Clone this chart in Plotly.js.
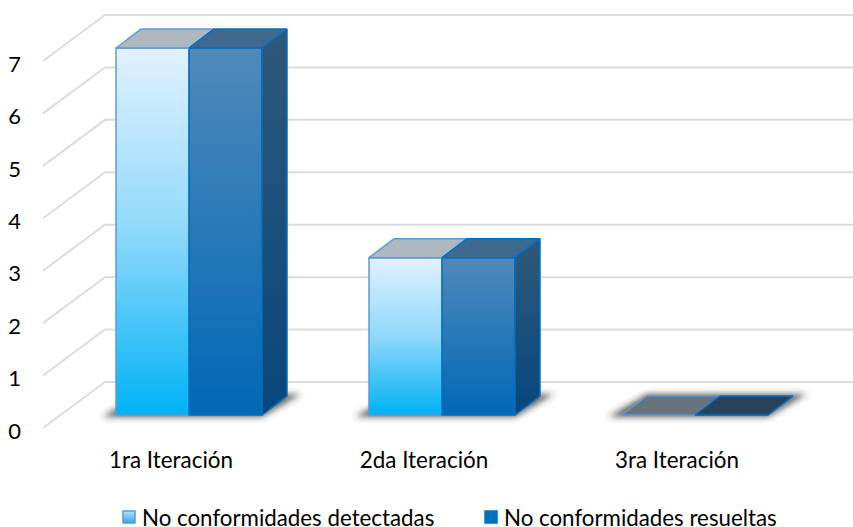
<!DOCTYPE html>
<html>
<head>
<meta charset="utf-8">
<script src="https://cdn.plot.ly/plotly-3.0.1.min.js"></script>
<style>html,body{margin:0;padding:0;background:#fff}</style>
</head>
<body>
<div id="chart" style="width:853px;height:527px"></div>
<script>
// Chart data
const categories = ['1ra Iteración', '2da Iteración', '3ra Iteración'];
const detectadas = [7, 3, 0];
const resueltas = [7, 3, 0];
const seriesNames = ['No conformidades detectadas', 'No conformidades resueltas'];
const valueTicks = [0, 1, 2, 3, 4, 5, 6, 7];

// Page geometry
const W = 853, H = 527, marginL = 22, marginB = 95;
const plotBottom = H - marginB;
const catStep = 253, unit = 52.43;
const labelX0 = 171, labelY0 = 428;   // pixel of first category label, value 0 on the axis plane
const barX0 = 189, barY0 = 415;       // pixel of first cluster centre, value 0 on the bar plane
const toIdx = px => px / catStep, toVal = px => px / unit;

// The bars stand slightly in front of the back wall and lean into it
const barW = toIdx(73), depthX = toIdx(25), depthY = toVal(19);
const wallX = toIdx(62), wallY = toVal(46);
const planeX = toIdx(barX0 - labelX0), planeY = toVal(labelY0 - barY0);
const gridStart = toIdx(43 - labelX0), gridEnd = toIdx(W - labelX0);

const idx = categories.map((_, i) => i);
const traces = [];

// Floor and wall grid, drawn in perspective
valueTicks.forEach(v => {
  traces.push({
    type: 'scatter', mode: 'lines', xaxis: 'x', yaxis: 'y', showlegend: false, hoverinfo: 'skip',
    x: [gridStart, gridStart + wallX, gridEnd],
    y: [v, v + wallY, v + wallY],
    line: {color: '#dcdcdc', width: 2}
  });
});

// Soft contact shadow under each cluster
idx.forEach(i => {
  const x0 = i - barW + planeX, x1 = i + barW + planeX, y0 = planeY;
  const pad = toIdx(14), padY = toVal(2);
  traces.push({
    type: 'scatter', mode: 'lines', name: 'sombra', xaxis: 'x', yaxis: 'y', showlegend: false, hoverinfo: 'skip',
    x: [x0 - pad, x1, x1 + depthX + pad, x0 + depthX, x0 - pad],
    y: [y0 - padY, y0 - padY, y0 + depthY + padY, y0 + depthY + padY, y0 - padY],
    fill: 'toself', fillcolor: 'rgba(50,50,50,0.75)', line: {width: 0}
  });
});

// Front faces
[detectadas, resueltas].forEach((vals, s) => {
  traces.push({
    type: 'bar', name: seriesNames[s], xaxis: 'x2', yaxis: 'y2', x: idx, y: vals, hoverinfo: 'skip',
    marker: {color: s ? '#0070c0' : '#5cc0f5', line: {color: s ? '#0070c0' : '#5b9bd5', width: 1.5}}
  });
});

// Top faces, darker on an empty bar where the floor shows through
[detectadas, resueltas].forEach((vals, s) => {
  vals.forEach((v, i) => {
    const x0 = i + (s ? 0 : -barW), x1 = x0 + barW;
    const fill = v > 0 ? (s ? '#3e6a8f' : '#aeb8c1') : (s ? '#27425a' : '#68737b');
    traces.push({
      type: 'scatter', mode: 'lines', xaxis: 'x2', yaxis: 'y2', showlegend: false, hoverinfo: 'skip',
      x: [x0, x1, x1 + depthX, x0 + depthX, x0],
      y: [v, v, v + depthY, v + depthY, v],
      fill: 'toself', fillcolor: fill,
      line: {color: s ? '#0070c0' : '#5b9bd5', width: 1.5}
    });
  });
});

// Right-hand side faces
resueltas.forEach((v, i) => {
  if (v <= 0) return;
  const x1 = i + barW;
  traces.push({
    type: 'scatter', mode: 'lines', xaxis: 'x2', yaxis: 'y2', showlegend: false, hoverinfo: 'skip',
    x: [x1, x1, x1 + depthX, x1 + depthX, x1],
    y: [0, v, v + depthY, depthY, 0],
    fill: 'toself',
    fillgradient: {type: 'vertical', colorscale: [[0, '#07477c'], [1, '#2f587a']]},
    line: {color: '#0070c0', width: 1.5}
  });
});

const font = {family: 'Lato, "Noto Sans", sans-serif', color: '#000000', size: 22};

const layout = {
  width: W, height: H,
  margin: {l: marginL, r: 0, t: 0, b: marginB, pad: 0},
  paper_bgcolor: '#ffffff', plot_bgcolor: '#ffffff',
  font: font,
  barmode: 'group', bargap: 0.423, bargroupgap: 0,
  showlegend: true,
  legend: {
    orientation: 'h', x: 109 / W, xref: 'container', y: 1 - 496 / H, yref: 'container',
    xanchor: 'left', yanchor: 'top', entrywidth: 317, entrywidthmode: 'pixels',
    font: {family: font.family, size: 22.3, color: '#000000'}, bgcolor: 'rgba(0,0,0,0)',
    traceorder: 'normal', itemclick: false, itemdoubleclick: false
  },
  xaxis: {
    type: 'linear', range: [toIdx(marginL - labelX0), toIdx(W - labelX0)],
    tickmode: 'array', tickvals: idx, ticktext: categories,
    showgrid: false, zeroline: false, showline: false,
    ticks: 'outside', ticklen: 8, tickcolor: 'rgba(0,0,0,0)',
    tickfont: {family: font.family, color: font.color, size: 22.4}
  },
  yaxis: {
    range: [toVal(labelY0 - plotBottom), toVal(labelY0)],
    tickmode: 'array', tickvals: valueTicks, ticktext: valueTicks.map(String),
    showgrid: false, zeroline: false, showline: false, ticks: '', tickfont: font,
    ticklabelshift: 3
  },
  xaxis2: {
    type: 'linear', overlaying: 'x', visible: false,
    range: [toIdx(marginL - barX0), toIdx(W - barX0)]
  },
  yaxis2: {
    overlaying: 'y', visible: false,
    range: [toVal(barY0 - plotBottom), toVal(barY0)]
  }
};

// Bars and swatches take vertical gradients, and the shadow a gaussian blur, once the plot exists
function addDefs(gd) {
  const NS = 'http://www.w3.org/2000/svg';
  const svg = gd.querySelector('svg.main-svg');
  const defs = document.createElementNS(NS, 'defs');
  const grad = (id, stops) => {
    const g = document.createElementNS(NS, 'linearGradient');
    g.id = id;
    g.setAttribute('x1', 0); g.setAttribute('y1', 0); g.setAttribute('x2', 0); g.setAttribute('y2', 1);
    stops.forEach(([o, c]) => {
      const st = document.createElementNS(NS, 'stop');
      st.setAttribute('offset', o); st.setAttribute('stop-color', c);
      g.appendChild(st);
    });
    defs.appendChild(g);
  };
  grad('caraClara', [[0, '#e2f1ff'], [0.5, '#8fd9fb'], [1, '#00b2f6']]);
  grad('caraOscura', [[0, '#5089ba'], [1, '#0068b6']]);
  grad('muestraClara', [[0, '#b5e2fb'], [1, '#2fa9e6']]);
  const f = document.createElementNS(NS, 'filter');
  f.id = 'difuso';
  f.setAttribute('x', '-20%'); f.setAttribute('y', '-50%');
  f.setAttribute('width', '140%'); f.setAttribute('height', '200%');
  const b = document.createElementNS(NS, 'feGaussianBlur');
  b.setAttribute('stdDeviation', '3');
  f.appendChild(b);
  defs.appendChild(f);
  svg.appendChild(defs);
}

function finish(gd) {
  addDefs(gd);
  gd.querySelectorAll('.barlayer .trace.bars').forEach((t, s) => {
    t.querySelectorAll('.point path').forEach(p => {
      p.style.fill = 'url(#' + (s ? 'caraOscura' : 'caraClara') + ')';
    });
  });
  gd.querySelectorAll('.scatterlayer .trace').forEach(t => {
    const d = t.__data__;
    if (d && d[0] && d[0].trace && d[0].trace.name === 'sombra') {
      t.style.filter = 'url(#difuso)';
    }
  });
  gd.querySelectorAll('.legend .traces').forEach((t, s) => {
    const sw = t.querySelector('.legendpoints path');
    if (sw && !s) sw.style.fill = 'url(#muestraClara)';
    const txt = t.querySelector('.legendtext');
    if (txt) txt.setAttribute('x', +txt.getAttribute('x') - 7);
  });
}

const gd = document.getElementById('chart');
Plotly.newPlot(gd, traces, layout, {displayModeBar: false, staticPlot: true}).then(finish);
</script>
</body>
</html>
